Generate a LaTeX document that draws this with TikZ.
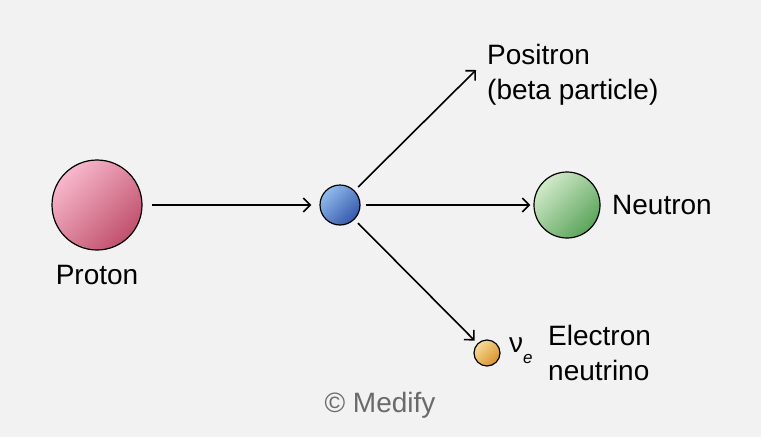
\documentclass[tikz,border=0pt]{standalone}
\usepackage{fontspec}
\setmainfont{Liberation Sans}
\usetikzlibrary{arrows.meta}
\definecolor{bg}{HTML}{F2F2F2}
\definecolor{protonlight}{HTML}{F8B8CC}
\definecolor{protondark}{HTML}{C0506C}
\definecolor{decaylight}{HTML}{92BBEC}
\definecolor{decaydark}{HTML}{3458AC}
\definecolor{neutronlight}{HTML}{D2EACA}
\definecolor{neutrondark}{HTML}{5AA45A}
\definecolor{nulight}{HTML}{F7DC9A}
\definecolor{nudark}{HTML}{D8922A}
\definecolor{credit}{HTML}{6A6A6A}
\tikzset{
  particle/.style 2 args={circle, draw=black, line width=1.2pt, inner sep=0pt,
    top color=#1, bottom color=#2, shading angle=45},
  label/.style={font=\fontsize{28}{35}\selectfont, align=left, inner sep=0pt},
  arrow/.style={-{Straight Barb[length=7pt,width=14pt]}, line width=1.6pt},
}
\begin{document}
\begin{tikzpicture}[x=1pt, y=-1pt]
            \fill[bg] (0,0) rectangle (761,437);
            \useasboundingbox (0,0) rectangle (761,437);
            \node[particle={protonlight}{protondark}, minimum size=90pt] at (97,205) (proton) {};
            \node[label, anchor=center] at (97,275) (protonlabel) {Proton};
            \node[particle={decaylight}{decaydark}, minimum size=40pt] at (340,205) (decay) {};
            \node[particle={neutronlight}{neutrondark}, minimum size=66pt] at (567,205) (neutron) {};
            \node[label, anchor=west] at (612,205) (neutronlabel) {Neutron};
            \node[label, anchor=west] at (487,75) (positron) {Positron\\(beta particle)};
            \coordinate (positrontip) at (476,70);
            \node[particle={nulight}{nudark}, minimum size=26pt] at (487,353) (neutrino) {};
            \node[label, anchor=west] at (509,351) (nusymbol) {ν\raisebox{-0.4em}{\fontsize{17}{17}\selectfont\itshape e}};
            \node[label, anchor=west] at (548,353) (nulabel) {Electron\\neutrino};
            \node[label, text=credit, anchor=center] at (380,405) (medify) {© Medify};
            \draw[arrow, shorten <=9pt, shorten >=8pt] (proton) -- (decay);
            \draw[arrow, shorten <=5pt, shorten >=3pt] (decay) -- (neutron);
            \draw[arrow, shorten <=5pt] (decay) -- (positrontip);
            \draw[arrow, shorten <=5pt, shorten >=4pt] (decay) -- (neutrino);
        \end{tikzpicture}
\end{document}
